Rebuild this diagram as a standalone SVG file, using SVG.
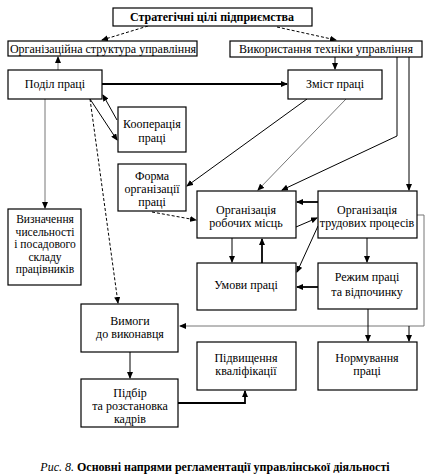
<svg xmlns="http://www.w3.org/2000/svg" width="436" height="475" viewBox="0 0 436 475" font-family="'Liberation Serif', 'Times New Roman', serif">
<defs>
<marker id="ah" markerUnits="userSpaceOnUse" markerWidth="7" markerHeight="6" refX="6" refY="3" orient="auto">
<path d="M0,0 L7,3 L0,6 Z" fill="#000"/>
</marker>
<style>
.box{fill:#fff;stroke:#000;stroke-width:1.2}
.t{font-family:'Liberation Serif','Times New Roman',serif;font-size:12px;fill:#000;text-anchor:middle}
.s{font-size:11.5px}
.b{font-weight:bold}
.c{fill:none;stroke:#000;stroke-width:1;marker-end:url(#ah)}
.g{stroke:#777}
.k{stroke-width:1.8}
.d{stroke-dasharray:3,2}
</style>
</defs>
<rect width="436" height="475" fill="#fff"/>
<g id="connectors">
<line class="c d" x1="148" y1="26" x2="102" y2="40"/>
<line class="c d" x1="277" y1="27" x2="336" y2="40"/>
<line class="c g" x1="58" y1="70" x2="58" y2="57"/>
<line class="c k" x1="102" y1="84" x2="287" y2="84"/>
<line class="c" x1="335" y1="57" x2="335" y2="69"/>
<line class="c" x1="117" y1="120" x2="103" y2="95"/>
<line class="c" x1="90" y1="99" x2="117" y2="140"/>
<line class="c d" x1="90" y1="99" x2="118" y2="303"/>
<line class="c g" x1="45" y1="99" x2="45" y2="208"/>
<line class="c" x1="307" y1="99" x2="187" y2="186"/>
<line class="c g" x1="346" y1="99" x2="258" y2="190"/>
<polyline class="c" points="397,57 397,136 282,190"/>
<line class="c" x1="409" y1="57" x2="409" y2="190"/>
<line class="c d" x1="152" y1="212" x2="196" y2="220"/>
<line class="c k" x1="318" y1="202" x2="297" y2="202"/>
<line class="c" x1="296" y1="227" x2="317" y2="218"/>
<line class="c" x1="318" y1="226" x2="297" y2="272"/>
<line class="c" x1="232" y1="238" x2="232" y2="262"/>
<line class="c k" x1="262" y1="263" x2="262" y2="239"/>
<line class="c" x1="367" y1="238" x2="367" y2="262"/>
<line class="c k" x1="318" y1="287" x2="297" y2="287"/>
<polyline class="c g" points="417,215 424,215 424,326 180,326"/>
<line class="c" x1="368" y1="309" x2="368" y2="341"/>
<line class="c" x1="409" y1="326" x2="409" y2="341"/>
<line class="c" x1="130" y1="352" x2="130" y2="378"/>
<polyline class="c k" points="178,403 245,403 245,391"/>
</g>
<g id="n-strategic">
<rect class="box" x="113" y="8" width="199" height="18"/>
<text class="t b" x="212" y="21">Стратегічні цілі підприємства</text>
</g>
<g id="n-orgstructure">
<rect class="box" x="8" y="41" width="189" height="15"/>
<text class="t" x="103" y="52.5">Організаційна структура управління</text>
</g>
<g id="n-technique">
<rect class="box" x="230" y="41" width="192" height="16"/>
<text class="t" x="326" y="53">Використання техніки управління</text>
</g>
<g id="n-division">
<rect class="box" x="8" y="70" width="94" height="29"/>
<text class="t" x="55" y="88">Поділ праці</text>
</g>
<g id="n-content">
<rect class="box" x="288" y="70" width="94" height="29"/>
<text class="t" x="335" y="88">Зміст праці</text>
</g>
<g id="n-cooperation">
<rect class="box" x="118" y="107" width="68" height="45"/>
<text class="t" x="152" y="128">Кооперація</text>
<text class="t" x="152" y="142">праці</text>
</g>
<g id="n-form">
<rect class="box" x="118" y="164" width="68" height="47"/>
<text class="t" x="152" y="180">Форма</text>
<text class="t" x="152" y="193">організації</text>
<text class="t" x="152" y="206">праці</text>
</g>
<g id="n-headcount">
<rect class="box" x="8" y="209" width="73" height="76"/>
<text class="t s" x="45" y="223">Визначення</text>
<text class="t s" x="45" y="235.5">чисельності</text>
<text class="t s" x="45" y="248">і посадового</text>
<text class="t s" x="45" y="260.5">складу</text>
<text class="t s" x="45" y="273">працівників</text>
</g>
<g id="n-workplaces">
<rect class="box" x="197" y="191" width="99" height="47"/>
<text class="t" x="246" y="214">Організація</text>
<text class="t" x="246" y="227">робочих місць</text>
</g>
<g id="n-processes">
<rect class="box" x="318" y="191" width="99" height="47"/>
<text class="t" x="367" y="214">Організація</text>
<text class="t" x="367" y="227">трудових процесів</text>
</g>
<g id="n-conditions">
<rect class="box" x="197" y="263" width="99" height="47"/>
<text class="t" x="246" y="289">Умови праці</text>
</g>
<g id="n-regime">
<rect class="box" x="318" y="263" width="99" height="46"/>
<text class="t" x="367" y="281">Режим праці</text>
<text class="t" x="367" y="296">та відпочинку</text>
</g>
<g id="n-requirements">
<rect class="box" x="81" y="304" width="97" height="48"/>
<text class="t" x="130" y="325">Вимоги</text>
<text class="t" x="130" y="338">до виконавця</text>
</g>
<g id="n-selection">
<rect class="box" x="81" y="379" width="97" height="48"/>
<text class="t" x="130" y="397">Підбір</text>
<text class="t" x="130" y="410">та розстановка</text>
<text class="t" x="130" y="423">кадрів</text>
</g>
<g id="n-qualification">
<rect class="box" x="197" y="342" width="99" height="48"/>
<text class="t" x="246" y="362">Підвищення</text>
<text class="t" x="246" y="375">кваліфікації</text>
</g>
<g id="n-norming">
<rect class="box" x="318" y="342" width="99" height="48"/>
<text class="t" x="367" y="362">Нормування</text>
<text class="t" x="367" y="375">праці</text>
</g>
<text class="t" x="215" y="471"><tspan font-style="italic">Рис. 8.</tspan><tspan font-weight="bold"> Основні напрями регламентації управлінської діяльності</tspan></text>
</svg>
